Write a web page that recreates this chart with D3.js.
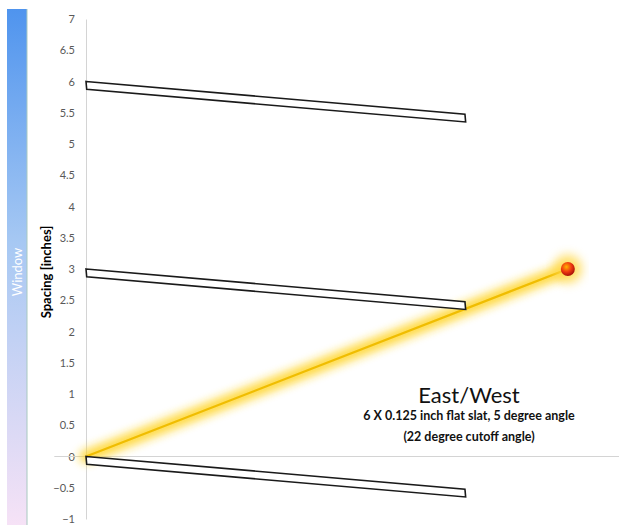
<!DOCTYPE html>
<html>
<head>
<meta charset="utf-8">
<script src="https://cdn.jsdelivr.net/npm/d3@7"></script>
<style>
  body { margin: 0; background: white; }
  text { font-family: Lato, "Open Sans", sans-serif; }
</style>
</head>
<body>
<div id="container"></div>
<script>
let w = 619;
let h = 525;

// data
let yTicks = [-1, -0.5, 0, 0.5, 1, 1.5, 2, 2.5, 3, 3.5, 4, 4.5, 5, 5.5, 6, 6.5, 7];
let slatTops = [6, 3, 0];          // top-left corner of each slat (inches)
let slatWidth = 6;                  // inches
let slatThickness = 0.125;          // inches
let slatAngle = 5;                  // degrees
let sunPoint = [7.6, 3.0];          // sun position
let titleLines = ["East/West", "6 X 0.125 inch flat slat, 5 degree angle", "(22 degree cutoff angle)"];

let viz = d3.select("#container").append("svg")
    .attr("width", w)
    .attr("height", h);

let defs = viz.append("defs");

let winGrad = defs.append("linearGradient").attr("id", "win")
    .attr("x1", 0).attr("y1", 0).attr("x2", 0).attr("y2", 1);
winGrad.append("stop").attr("offset", "0%").attr("stop-color", "#4f94ee");
winGrad.append("stop").attr("offset", "45%").attr("stop-color", "#a6c8f3");
winGrad.append("stop").attr("offset", "100%").attr("stop-color", "#f6e2f6");

let glow = defs.append("filter").attr("id", "glow")
    .attr("x", "-20%").attr("y", "-50%").attr("width", "140%").attr("height", "200%");
glow.append("feGaussianBlur").attr("stdDeviation", 5);

let sunGrad = defs.append("radialGradient").attr("id", "sun")
    .attr("cx", "40%").attr("cy", "35%").attr("r", "65%");
sunGrad.append("stop").attr("offset", "0%").attr("stop-color", "#ffb300");
sunGrad.append("stop").attr("offset", "55%").attr("stop-color", "#f03a10");
sunGrad.append("stop").attr("offset", "100%").attr("stop-color", "#a8100a");

// scales
let y = d3.scaleLinear().domain([-1, 7]).range([519, 19]);
let x = d3.scaleLinear().domain([0, 8.5]).range([86, 86 + 8.5 * 63.4]);

// window bar
viz.append("rect")
    .attr("x", 7).attr("y", 9)
    .attr("width", 20).attr("height", h - 9)
    .attr("fill", "url(#win)");
viz.append("line")
    .attr("x1", 27).attr("x2", 27).attr("y1", 9).attr("y2", h)
    .attr("stroke", "#a8c8c0").attr("stroke-width", 1);
viz.append("text")
    .attr("transform", "translate(21.5," + 272 + ") rotate(-90)")
    .attr("text-anchor", "middle")
    .attr("fill", "white")
    .style("font-size", "13px")
    .text("Window");

// y axis
let yAxis = d3.axisLeft(y).tickValues(yTicks).tickSize(0).tickPadding(11)
    .tickFormat(d => d3.format("")(d));
let yG = viz.append("g").attr("transform", "translate(" + x(0) + ",0)").call(yAxis);
yG.select(".domain").attr("stroke", "#d4d4d4");
yG.selectAll("text").attr("fill", "#595959").style("font-size", "11px");

// zero line
viz.append("line")
    .attr("x1", x(-0.5)).attr("x2", x(8.42))
    .attr("y1", y(0)).attr("y2", y(0))
    .attr("stroke", "#d4d4d4").attr("stroke-width", 1.2);

viz.append("text")
    .attr("transform", "translate(51," + 272 + ") rotate(-90)")
    .attr("text-anchor", "middle")
    .style("font-size", "13px")
    .style("font-weight", "bold")
    .text("Spacing [inches]");

// sun ray
let ray = viz.append("g");
ray.append("line")
    .attr("x1", x(0)).attr("y1", y(0))
    .attr("x2", x(sunPoint[0])).attr("y2", y(sunPoint[1]))
    .attr("stroke", "#ffd21f").attr("stroke-width", 13)
    .attr("stroke-linecap", "round")
    .attr("opacity", 0.85)
    .attr("filter", "url(#glow)");
ray.append("line")
    .attr("x1", x(0)).attr("y1", y(0))
    .attr("x2", x(sunPoint[0])).attr("y2", y(sunPoint[1]))
    .attr("stroke", "#f0bd00").attr("stroke-width", 2.2);

// slats
let a = slatAngle * Math.PI / 180;
let slatCorners = function(top) {
  let p0 = [0, top];
  let p1 = [slatWidth * Math.cos(a), top - slatWidth * Math.sin(a)];
  let p2 = [p1[0] + slatThickness * Math.sin(a), p1[1] - slatThickness * Math.cos(a)];
  let p3 = [slatThickness * Math.sin(a), top - slatThickness * Math.cos(a)];
  return [p0, p1, p2, p3];
};
viz.append("g").selectAll("polygon").data(slatTops).enter()
  .append("polygon")
    .attr("points", d => slatCorners(d).map(p => x(p[0]) + "," + y(p[1])).join(" "))
    .attr("fill", "white")
    .attr("stroke", "#1a1a1a")
    .attr("stroke-width", 1.6);

// sun
viz.append("circle")
    .attr("cx", x(sunPoint[0])).attr("cy", y(sunPoint[1]))
    .attr("r", 15).attr("fill", "#ffd84a").attr("opacity", 0.65)
    .attr("filter", "url(#glow)");
viz.append("circle")
    .attr("cx", x(sunPoint[0])).attr("cy", y(sunPoint[1]))
    .attr("r", 7).attr("fill", "url(#sun)");

// label
let tx = 469;
viz.append("text").attr("x", tx).attr("y", 403)
    .attr("text-anchor", "middle").style("font-size", "22px")
    .attr("fill", "#111").text(titleLines[0]);
viz.append("text").attr("x", tx).attr("y", 420)
    .attr("text-anchor", "middle").style("font-size", "12.5px").style("font-weight", "bold")
    .attr("fill", "#111").text(titleLines[1]);
viz.append("text").attr("x", tx).attr("y", 441)
    .attr("text-anchor", "middle").style("font-size", "12.5px").style("font-weight", "bold")
    .attr("fill", "#111").text(titleLines[2]);
</script>
</body>
</html>
